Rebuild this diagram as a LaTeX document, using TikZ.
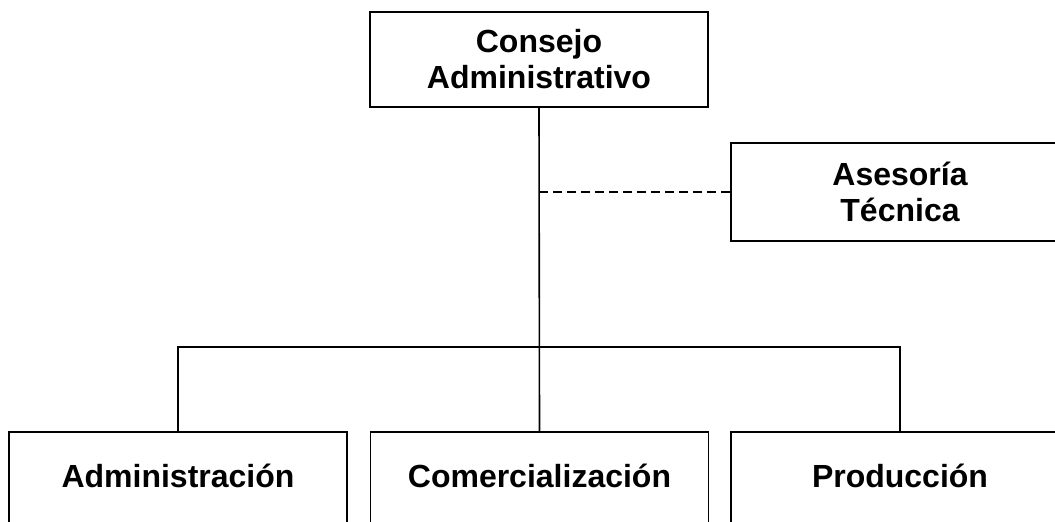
\documentclass[tikz,border=0pt]{standalone}
\usepackage{fontspec}
\setmainfont{Liberation Sans}
\begin{document}
\begin{tikzpicture}[x=1pt, y=-1pt,
  orgline/.style={line width=1.6pt, black},
  orgbox/.style={draw, line width=1.6pt, fill=white, minimum width=338pt,
    inner sep=0pt, align=center,
    font=\fontsize{32}{36}\selectfont\bfseries},
  lowbox/.style={orgbox, text height=55pt, text depth=45pt, anchor=base},
  advice/.style={line width=1.2pt, dash pattern=on 9pt off 5pt}]
  \useasboundingbox (0,0) rectangle (1055,522);
  \fill[white] (0,0) rectangle (1055,522);
  \clip (0,0) rectangle (1055,522);

  % board and advisory unit
  \node[orgbox, minimum height=95pt] (consejo) at (539,59.5)
    {Consejo\\Administrativo};
  \node[orgbox, minimum height=98pt] (asesoria) at (900,192)
    {Asesoría\\Técnica};

  % departments
  \node[lowbox] (admin)  at (178,487)   {Administración};
  \node[lowbox] (comerc) at (539.5,487) {Comercialización};
  \node[lowbox] (prod)   at (900,487)   {Producción};

  % connectors
  \coordinate (bus) at (comerc.north |- 0,347);
  \draw[orgline] (consejo.south) -- (comerc.north);
  \draw[orgline] (admin.north) |- (bus) -| (prod.north);
  \draw[advice] (asesoria.west) -- (consejo.south |- asesoria.west);
\end{tikzpicture}
\end{document}
